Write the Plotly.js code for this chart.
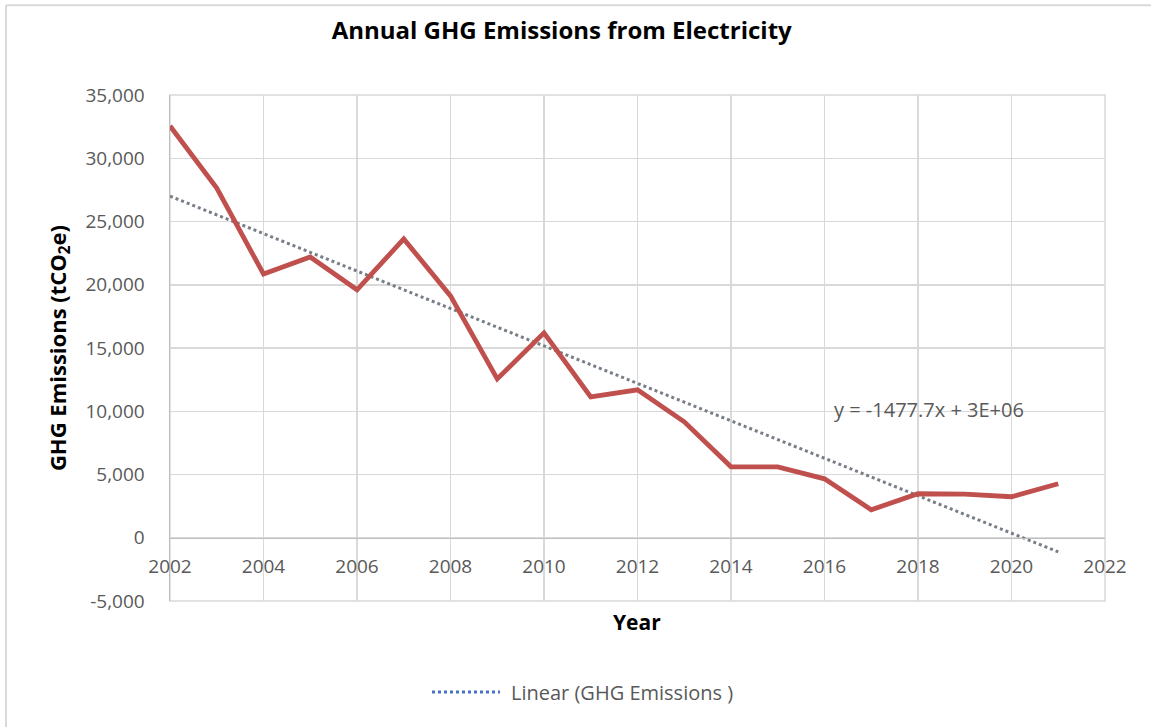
<!DOCTYPE html>
<html>
<head>
<meta charset="utf-8">
<script src="https://cdn.plot.ly/plotly-3.0.1.min.js"></script>
<style>html,body{margin:0;padding:0;background:#fff;}#chart{width:1151px;height:727px;}</style>
</head>
<body>
<div id="chart"></div>
<script>
const years = [2002,2003,2004,2005,2006,2007,2008,2009,2010,2011,2012,2013,2014,2015,2016,2017,2018,2019,2020,2021];
const emissions = [32550,27650,20850,22200,19600,23620,19120,12560,16200,11140,11690,9160,5610,5600,4660,2210,3480,3450,3240,4270];
const xTicks = [2002,2004,2006,2008,2010,2012,2014,2016,2018,2020,2022];
const yTicks = [-5000,0,5000,10000,15000,20000,25000,30000,35000];
const yTickLabels = ["-5,000","0","5,000","10,000","15,000","20,000","25,000","30,000","35,000"];
const legendLabel = "Linear (GHG Emissions )";
const equationLabel = "y = -1477.7x + 3E+06";

// least-squares linear trendline (as Excel does)
const n = years.length;
const mx = years.reduce((a,b)=>a+b,0)/n;
const my = emissions.reduce((a,b)=>a+b,0)/n;
let sxy=0, sxx=0;
for (let i=0;i<n;i++){ sxy += (years[i]-mx)*(emissions[i]-my); sxx += (years[i]-mx)*(years[i]-mx); }
const slope = sxy/sxx, intercept = my - slope*mx;
const trend = years.map(x => slope*x + intercept);

const font = "Open Sans, Noto Sans, sans-serif";
const traces = [
  {x: years, y: trend, mode:'lines', name:legendLabel, line:{color:'#787E87', width:3, dash:'dot'}, showlegend:false, hoverinfo:'skip'},
  {x: years, y: emissions, mode:'lines', name:'GHG Emissions', line:{color:'#C0504D', width:4.8}, showlegend:false}
];

const layout = {
  width:1151, height:727,
  margin:{l:170, r:46, t:95, b:126},
  paper_bgcolor:'#fff', plot_bgcolor:'#fff',
  showlegend:false,
  title:{text:'<b>Annual GHG Emissions from Electricity</b>', font:{family:font, size:24, color:'#000'}, x:0.488, xanchor:'center', y:0.958, yanchor:'middle'},
  xaxis:{
    range:[2002,2022], tickvals:xTicks, ticktext:xTicks.map(String),
    anchor:'free', position:0.125,
    showgrid:true, gridcolor:'#D9D9D9', gridwidth:1.5,
    showline:true, linecolor:'#BFBFBF', linewidth:1.5, zeroline:false,
    ticks:'', ticklabelstandoff:11,
    tickfont:{family:font, size:19, color:'#595959'}
  },
  yaxis:{
    range:[-5000,35000], tickvals:yTicks, ticktext:yTickLabels,
    showgrid:true, gridcolor:'#D9D9D9', gridwidth:1.5,
    showline:true, linecolor:'#BFBFBF', linewidth:1.5, zeroline:false,
    ticks:'', ticklabelstandoff:20,
    tickfont:{family:font, size:19, color:'#595959'},
    title:{text:'<b>GHG Emissions (tCO<sub>2</sub>e)</b>', font:{family:font, size:22, color:'#000'}, standoff:13}
  },
  annotations:[
    {xref:'paper', yref:'paper', x:0.708, y:0.378, xanchor:'left', yanchor:'middle', showarrow:false,
     text:equationLabel, font:{family:font, size:20, color:'#595959'}},
    {xref:'paper', yref:'paper', x:0.4995, y:-0.042, xanchor:'center', yanchor:'middle', showarrow:false,
     text:'<b>Year</b>', font:{family:font, size:21, color:'#000'}},
    {xref:'paper', yref:'paper', x:0.3625, y:-0.18, xanchor:'left', yanchor:'middle', showarrow:false,
     text:legendLabel, font:{family:font, size:20, color:'#595959'}}
  ],
  shapes:[
    {type:'rect', xref:'paper', yref:'paper', x0:0, x1:1, y0:0, y1:1, line:{color:'#D9D9D9', width:1.5}, layer:'below'},
    {type:'line', xref:'paper', yref:'paper', x0:0.2802, x1:0.3529, y0:-0.18, y1:-0.18, line:{color:'#4472C4', width:3, dash:'dot'}},
    {type:'line', xref:'paper', yref:'paper', x0:-0.1754, x1:1.05, y0:1.1775, y1:1.1775, line:{color:'#D9D9D9', width:2}},
    {type:'line', xref:'paper', yref:'paper', x0:-0.1754, x1:-0.1754, y0:1.1775, y1:-0.3, line:{color:'#D9D9D9', width:2}}
  ]
};
Plotly.newPlot('chart', traces, layout, {displayModeBar:false, staticPlot:true});
</script>
</body>
</html>
